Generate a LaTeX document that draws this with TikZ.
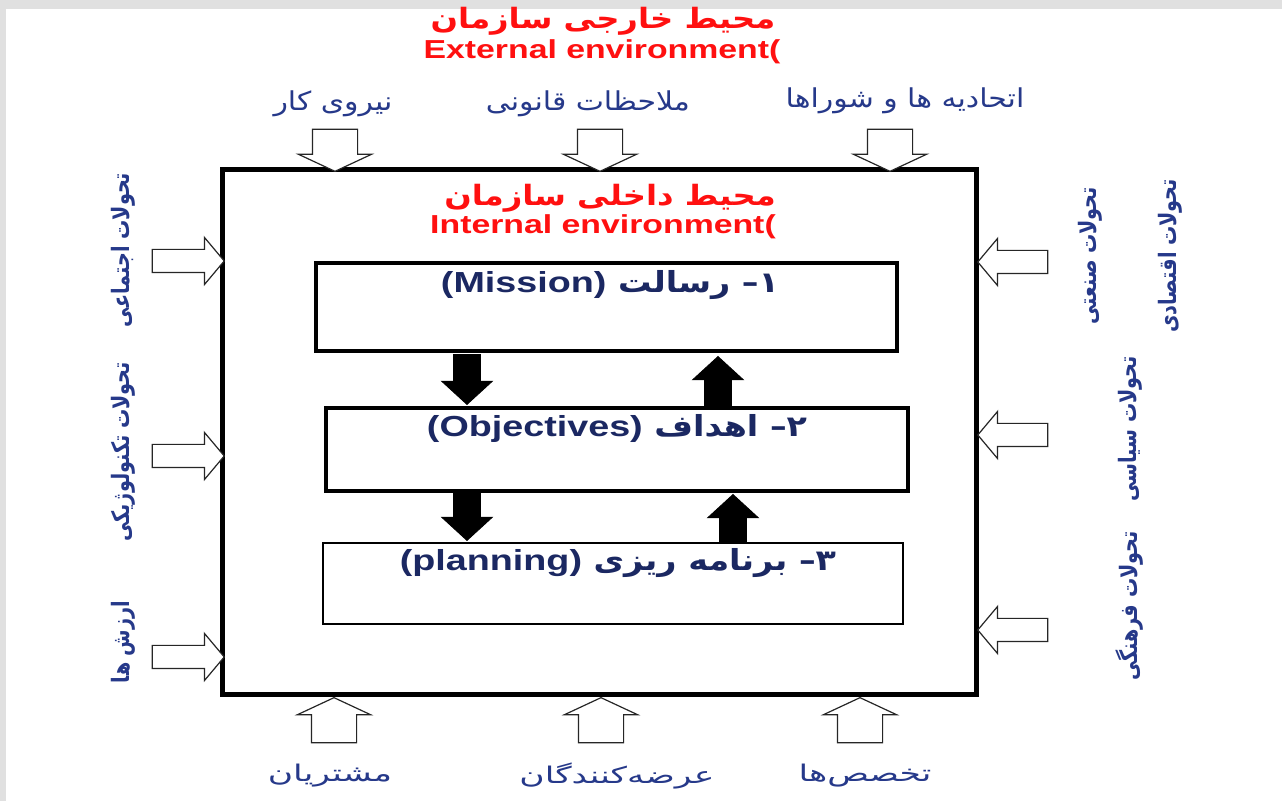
\documentclass[tikz,border=0pt]{standalone}
\usepackage{fontspec}
\setmainfont{Liberation Sans}
\newfontfamily\arabicnarrow[Script=Arabic, FakeStretch=0.8]{DejaVu Sans}
\newfontfamily\arabicwide[Script=Arabic, FakeStretch=1.15]{DejaVu Sans}
\newfontfamily\arabicwider[Script=Arabic, FakeStretch=1.5]{DejaVu Sans}
\newfontfamily\latinfont[FakeStretch=1.3]{Liberation Sans}
\TeXXeTstate=1
\usetikzlibrary{shapes.arrows}
\definecolor{titlered}{HTML}{FF1010}
\definecolor{labelblue}{HTML}{26398A}
\definecolor{boxblue}{HTML}{1B2862}
\newcommand{\rtltext}[1]{\beginR #1\endR}
\tikzset{
  titlefa/.style={font=\arabicwide\bfseries\fontsize{14}{16}\selectfont, text=titlered, inner sep=0pt},
  titleen/.style={font=\latinfont\bfseries\fontsize{13}{15}\selectfont, text=titlered, inner sep=0pt},
  outside/.style={font=\arabicwide\fontsize{13}{15}\selectfont, text=labelblue, inner sep=0pt},
  below/.style={outside, font=\arabicwider\fontsize{11.5}{13}\selectfont},
  sidetext/.style={outside, font=\arabicnarrow\bfseries\fontsize{12}{14}\selectfont, rotate=90},
  boxtext/.style={font=\arabicwide\bfseries\fontsize{14.5}{16}\selectfont, text=boxblue, inner sep=0pt},
  stage/.style={draw, fill=white, minimum width=#1, inner sep=0pt},
  hollow/.style={shape=single arrow, draw=black!85, fill=white, line width=0.6pt,
    inner xsep=0pt, inner ysep=11pt, single arrow tip angle=130, single arrow head extend=7pt,
    minimum height=21pt},
  sidearrow/.style={hollow, inner ysep=5.5pt, single arrow tip angle=100, single arrow head extend=6pt,
    minimum height=36pt},
  solidarrow/.style={shape=single arrow, draw, fill=black, inner xsep=0pt, inner ysep=6.5pt,
    single arrow tip angle=95, single arrow head extend=6pt, minimum height=25pt}
}
\begin{document}
\begin{tikzpicture}[x=0.5pt,y=-0.5pt]
\useasboundingbox (0,0) rectangle (1282,801);
% page
\fill[black!12] (0,0) rectangle (1282,801);
\fill[white] (6,9) rectangle (1282,801);

% external environment
\node[titlefa] (extFa) at (603,21) {\rtltext{محیط خارجی سازمان}};
\node[titleen] (extEn) at (602,52) {External environment(};

\node[outside] (labour) at (333,104) {\rtltext{نیروی کار}};
\node[outside] (legal) at (588,104) {\rtltext{ملاحظات قانونی}};
\node[outside] (unions) at (905,101) {\rtltext{اتحادیه ها و شوراها}};

\node[below] (customers) at (330,776) {\rtltext{مشتریان}};
\node[below] (suppliers) at (617,776) {\rtltext{عرضه‌کنندگان}};
\node[below] (experts) at (865,776) {\rtltext{تخصص‌ها}};

\node[sidetext] (social) at (123,250) {\rtltext{تحولات اجتماعی}};
\node[sidetext] (techno) at (123,452) {\rtltext{تحولات تکنولوژیکی}};
\node[sidetext] (values) at (123,642) {\rtltext{ارزش ها}};
\node[sidetext] (industry) at (1090,256) {\rtltext{تحولات صنعتی}};
\node[sidetext] (economy) at (1170,256) {\rtltext{تحولات اقتصادی}};
\node[sidetext] (politics) at (1130,429) {\rtltext{تحولات سیاسی}};
\node[sidetext] (culture) at (1130,606) {\rtltext{تحولات فرهنگی}};

% organisation
\node[draw, line width=2.5pt, minimum width=377pt, minimum height=262.5pt] (org) at (599,432.5) {};
\node[titlefa] (intFa) at (610,198) {\rtltext{محیط داخلی سازمان}};
\node[titleen] (intEn) at (603,227) {Internal environment(};

% stages
\node[stage=290.5pt, line width=2pt, minimum height=44pt] (mission) at (606.5,307) {};
\node[stage=291pt, line width=2pt, minimum height=41.5pt] (objectives) at (617,449.5) {};
\node[stage=290pt, line width=0.8pt, minimum height=40.5pt] (planning) at (613,583.5) {};
\node[boxtext] (missionTxt) at (610,285) {\rtltext{۱– رسالت \beginL{\latinfont\bfseries (Mission)}\endL}};
\node[boxtext] (objectivesTxt) at (617,428) {\rtltext{۲– اهداف \beginL{\latinfont\bfseries (Objectives)}\endL}};
\node[boxtext] (planningTxt) at (618,563) {\rtltext{۳– برنامه ریزی \beginL{\latinfont\bfseries (planning)}\endL}};

% feedback between stages
\node[solidarrow, rotate=-90, anchor=tip] (down1) at (467,405) {};
\node[solidarrow, rotate=90, anchor=tip] (up1) at (718,356) {};
\node[solidarrow, rotate=-90, anchor=tip, minimum height=24pt] (down2) at (467,541) {};
\node[solidarrow, rotate=90, anchor=tip, minimum height=24pt] (up2) at (733,494) {};

% pressures from outside
\node[hollow, rotate=-90, anchor=tip] (inLabour) at (335,172) {};
\node[hollow, rotate=-90, anchor=tip] (inLegal) at (600,172) {};
\node[hollow, rotate=-90, anchor=tip] (inUnions) at (890,172) {};
\node[hollow, rotate=90, anchor=tip, minimum height=22.5pt] (inCustomers) at (334,697) {};
\node[hollow, rotate=90, anchor=tip, minimum height=22.5pt] (inSuppliers) at (601,697) {};
\node[hollow, rotate=90, anchor=tip, minimum height=22.5pt] (inExperts) at (860,697) {};
\node[sidearrow, anchor=tip] (inSocial) at (225,261) {};
\node[sidearrow, anchor=tip] (inTechno) at (225,456) {};
\node[sidearrow, anchor=tip] (inValues) at (225,657) {};
\node[sidearrow, rotate=180, anchor=tip, minimum height=35pt] (inIndustry) at (977,262) {};
\node[sidearrow, rotate=180, anchor=tip, minimum height=35pt] (inPolitics) at (977,435) {};
\node[sidearrow, rotate=180, anchor=tip, minimum height=35pt] (inCulture) at (977,630) {};
\end{tikzpicture}
\end{document}
